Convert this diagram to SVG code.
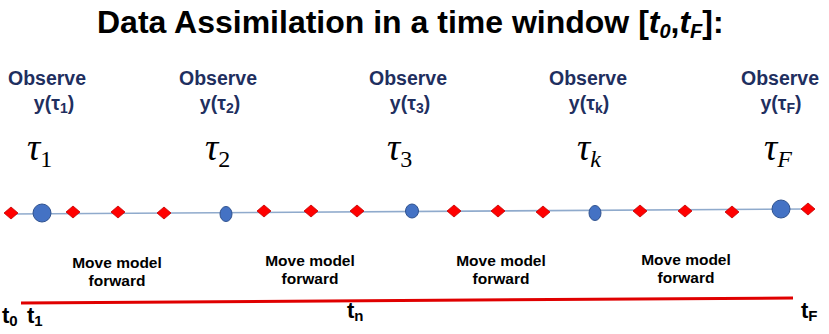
<svg xmlns="http://www.w3.org/2000/svg" xmlns:xlink="http://www.w3.org/1999/xlink" width="829" height="334" viewBox="0 0 829 334">
<style>
.title{font-family:"Liberation Sans",Arial,sans-serif;font-weight:bold;font-size:32px;fill:#000}
.obs{font-family:"Liberation Sans",Arial,sans-serif;font-weight:bold;font-size:19.5px;fill:#1f2f5f;text-anchor:middle}
.tau{font-family:"Liberation Serif","Times New Roman",serif;font-style:italic;font-size:37px;fill:#000}
.sub{font-family:"Liberation Serif","Times New Roman",serif;font-size:24px;fill:#000}
.mv{font-family:"Liberation Sans",Arial,sans-serif;font-weight:bold;font-size:15.5px;fill:#000;text-anchor:middle}
.tl{font-family:"Liberation Sans",Arial,sans-serif;font-weight:bold;font-size:22px;fill:#000}
.dia{fill:#ff0000;stroke:#c00000;stroke-width:0.8}
.obspt{fill:#4472c4;stroke:#2f528f;stroke-width:1}
</style>
<defs>
<polygon id="d" points="-7,0 0,-6 7,0 0,6"/>
</defs>
<text class="title" x="97" y="33">Data Assimilation in a time window [<tspan font-style="italic">t</tspan><tspan font-size="20" font-style="italic" dy="5">0</tspan><tspan dy="-5">,</tspan><tspan font-style="italic">t</tspan><tspan font-size="20" font-style="italic" dy="5">F</tspan><tspan dy="-5">]:</tspan></text>
<g id="connectors">
<line x1="11" y1="214" x2="808" y2="209" stroke="#8faacc" stroke-width="1.6"/>
<line x1="21" y1="303" x2="793" y2="298" stroke="#e00000" stroke-width="3"/>
</g>
<g id="obs1">
<text class="obs" x="47" y="85">Observe</text>
<text class="obs" x="54" y="110">y(τ<tspan font-size="14" dy="3">1</tspan><tspan dy="-3">)</tspan></text>
<text class="tau" x="27" y="160">τ<tspan class="sub" font-style="normal" dy="7">1</tspan></text>
<circle class="obspt" cx="42" cy="213" r="9"/>
</g>
<g id="obs2">
<text class="obs" x="218" y="85">Observe</text>
<text class="obs" x="220" y="110">y(τ<tspan font-size="14" dy="3">2</tspan><tspan dy="-3">)</tspan></text>
<text class="tau" x="205" y="160">τ<tspan class="sub" font-style="normal" dy="7">2</tspan></text>
<ellipse class="obspt" cx="226" cy="214" rx="6" ry="7.5"/>
</g>
<g id="obs3">
<text class="obs" x="408" y="85">Observe</text>
<text class="obs" x="410" y="110">y(τ<tspan font-size="14" dy="3">3</tspan><tspan dy="-3">)</tspan></text>
<text class="tau" x="387" y="160">τ<tspan class="sub" font-style="normal" dy="7">3</tspan></text>
<ellipse class="obspt" cx="412" cy="211" rx="6.5" ry="7"/>
</g>
<g id="obsk">
<text class="obs" x="588" y="85">Observe</text>
<text class="obs" x="589" y="110">y(τ<tspan font-size="14" dy="3">k</tspan><tspan dy="-3">)</tspan></text>
<text class="tau" x="577" y="160">τ<tspan class="sub" dy="7">k</tspan></text>
<ellipse class="obspt" cx="595" cy="213" rx="6" ry="7.5"/>
</g>
<g id="obsF">
<text class="obs" x="780" y="85">Observe</text>
<text class="obs" x="781" y="110">y(τ<tspan font-size="14" dy="3">F</tspan><tspan dy="-3">)</tspan></text>
<text class="tau" x="764" y="160">τ<tspan class="sub" dy="7">F</tspan></text>
<circle class="obspt" cx="781" cy="209" r="9"/>
</g>
<g id="steps">
<use xlink:href="#d" class="dia" x="11" y="213"/>
<use xlink:href="#d" class="dia" x="73" y="212"/>
<use xlink:href="#d" class="dia" x="118" y="212"/>
<use xlink:href="#d" class="dia" x="164" y="213"/>
<use xlink:href="#d" class="dia" x="264" y="211"/>
<use xlink:href="#d" class="dia" x="311" y="211"/>
<use xlink:href="#d" class="dia" x="357" y="211"/>
<use xlink:href="#d" class="dia" x="454" y="211"/>
<use xlink:href="#d" class="dia" x="498" y="211"/>
<use xlink:href="#d" class="dia" x="543" y="212"/>
<use xlink:href="#d" class="dia" x="640" y="211"/>
<use xlink:href="#d" class="dia" x="685" y="211"/>
<use xlink:href="#d" class="dia" x="732" y="212"/>
<use xlink:href="#d" class="dia" x="808" y="209"/>
</g>
<g id="move1"><text class="mv" x="117" y="268">Move model</text><text class="mv" x="117" y="286">forward</text></g>
<g id="move2"><text class="mv" x="310" y="266">Move model</text><text class="mv" x="310" y="284">forward</text></g>
<g id="move3"><text class="mv" x="501" y="266">Move model</text><text class="mv" x="501" y="284">forward</text></g>
<g id="move4"><text class="mv" x="686" y="265">Move model</text><text class="mv" x="686" y="283">forward</text></g>
<g id="times">
<text class="tl" x="2" y="323">t<tspan font-size="15" dy="3">0</tspan></text>
<text class="tl" x="27" y="323">t<tspan font-size="15" dy="3">1</tspan></text>
<text class="tl" x="347" y="318">t<tspan font-size="15" dy="3">n</tspan></text>
<text class="tl" x="801" y="318">t<tspan font-size="15" dy="3">F</tspan></text>
</g>
</svg>
